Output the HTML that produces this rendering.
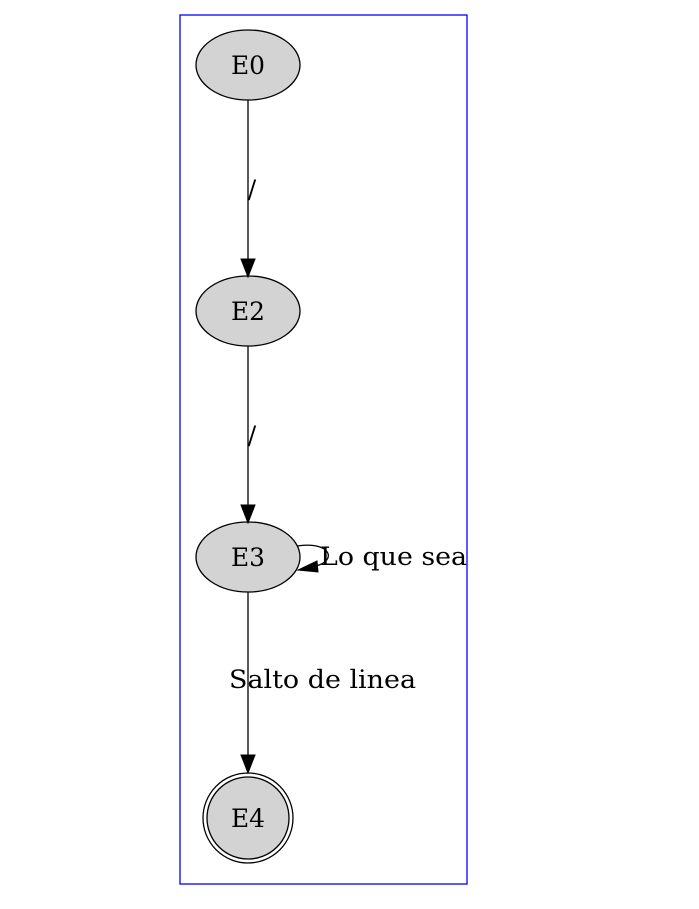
<!DOCTYPE html>
<html><head><meta charset="utf-8"><style>
html,body{margin:0;padding:0;background:#fff;}
svg{display:block;}
</style></head><body>
<svg width="699" height="909" viewBox="0 0 699 909" font-family="DejaVu Serif, Liberation Serif, serif" font-size="25">
<rect x="180" y="15" width="287" height="869" fill="none" stroke="#0000ff" stroke-width="1.3"/>
<g>
<ellipse cx="248" cy="65" rx="52" ry="35" fill="#d3d3d3" stroke="#000" stroke-width="1.3"/>
<text x="231" y="74" textLength="34" lengthAdjust="spacingAndGlyphs">E0</text></g>
<g>
<ellipse cx="248" cy="311" rx="52" ry="35" fill="#d3d3d3" stroke="#000" stroke-width="1.3"/>
<text x="231" y="320" textLength="34" lengthAdjust="spacingAndGlyphs">E2</text></g>
<g>
<ellipse cx="248" cy="557" rx="52" ry="35" fill="#d3d3d3" stroke="#000" stroke-width="1.3"/>
<text x="231" y="566" textLength="34" lengthAdjust="spacingAndGlyphs">E3</text></g>
<g>
<circle cx="248" cy="818" r="45" fill="none" stroke="#000" stroke-width="1.3"/>
<circle cx="248" cy="818" r="41" fill="#d3d3d3" stroke="#000" stroke-width="1.3"/>
<text x="231" y="827" textLength="34" lengthAdjust="spacingAndGlyphs">E4</text></g>
<g>
<line x1="248" y1="100" x2="248" y2="260" stroke="#000" stroke-width="1.3"/>
<polygon points="241,259 255,259 248,277" fill="#000" stroke="#000"/>
<text x="252" y="198" text-anchor="middle">/</text></g>
<g>
<line x1="248" y1="346" x2="248" y2="506" stroke="#000" stroke-width="1.3"/>
<polygon points="241,505 255,505 248,523" fill="#000" stroke="#000"/>
<text x="252" y="444" text-anchor="middle">/</text></g>
<g>
<line x1="248" y1="592" x2="248" y2="756" stroke="#000" stroke-width="1.3"/>
<polygon points="241,755 255,755 248,773" fill="#000" stroke="#000"/>
<text x="229" y="688" textLength="187" lengthAdjust="spacingAndGlyphs">Salto de linea</text></g>
<g>
<path d="M297,546 C330,541 338,560 316,566" fill="none" stroke="#000" stroke-width="1.3"/>
<polygon points="317,561 318,572 298,570" fill="#000" stroke="#000"/>
<text x="320" y="565" textLength="147" lengthAdjust="spacingAndGlyphs">Lo que sea</text></g>
</svg>
</body></html>
